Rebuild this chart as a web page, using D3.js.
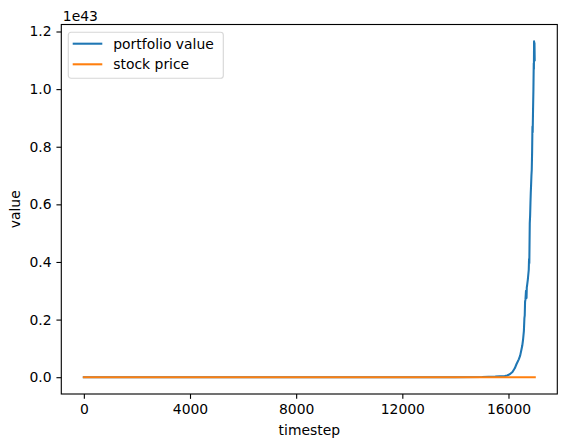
<!DOCTYPE html>
<html>
<head>
<meta charset="utf-8">
<script src="https://cdn.jsdelivr.net/npm/d3@7"></script>
<style>
  html, body { margin: 0; padding: 0; background: #fff; }
  svg { display: block; font-family: 'DejaVu Sans', sans-serif; }
</style>
</head>
<body>
<div id="chart-container"></div>
<script>
// portfolio value, sampled (timestep, value)
const portfolioSteps = [
  0, 4000, 8000, 12000, 14000, 15000, 15500, 15861, 15950, 16049,
  16150, 16237, 16300, 16388, 16440, 16489, 16520, 16549, 16580, 16600,
  16613, 16625, 16640, 16660, 16680, 16690, 16700, 16730, 16764, 16775,
  16785, 16802, 16815, 16828, 16840, 16851, 16865, 16877, 16890, 16903,
  16912, 16926, 16940, 16952, 16958, 16964, 16972, 16980, 16988
];
const portfolioValues = [
  0, 0, 0, 0, 1e39, 5e39, 2e40, 4e40, 6e40, 1.0e41,
  1.8e41, 3.1e41, 4.5e41, 6.2e41, 7.5e41, 9.6e41, 1.10e42, 1.30e42, 1.60e42, 2.05e42,
  2.15e42, 2.62e42, 2.70e42, 3.00e42, 2.75e42, 3.12e42, 3.18e42, 3.40e42, 3.73e42, 4.10e42,
  3.95e42, 5.34e42, 5.60e42, 6.05e42, 6.40e42, 6.65e42, 7.00e42, 7.20e42, 7.80e42, 8.70e42,
  8.50e42, 9.30e42, 1.00e43, 1.09e43, 1.07e43, 1.166e43, 1.12e43, 1.16e43, 1.10e43
];

// stock price, sampled (timestep, value)
const stockSteps = [0, 4000, 8000, 12000, 16000, 16990];
const stockValues = [100, 140, 120, 160, 150, 170];

const xTicks = [0, 4000, 8000, 12000, 16000];
const yTicks = [0, 0.2e43, 0.4e43, 0.6e43, 0.8e43, 1.0e43, 1.2e43];

const seriesNames = ['portfolio value', 'stock price'];
const seriesColors = ['#1f77b4', '#ff7f0e'];

const width = 567;
const height = 448;
const margin = { top: 24.5, right: 9.7, bottom: 54, left: 61.3 };
const fontSize = 13.9;
const tickLen = 4.86;
const tickPad = 4.86;

function padded([lo, hi]) {
  const d = (hi - lo) * 0.05;
  return [lo - d, hi + d];
}

const series = [
  portfolioSteps.map((t, i) => ({ t, v: portfolioValues[i] })),
  stockSteps.map((t, i) => ({ t, v: stockValues[i] }))
];
const all = series.flat();

const x = d3.scaleLinear()
  .domain(padded(d3.extent(all, d => d.t)))
  .range([margin.left, width - margin.right]);
const y = d3.scaleLinear()
  .domain(padded(d3.extent(all, d => d.v)))
  .range([height - margin.bottom, margin.top]);

const svg = d3.select('#chart-container').append('svg')
  .attr('width', width)
  .attr('height', height)
  .attr('font-size', fontSize);

const plot = svg.append('g');
plot.append('clipPath').attr('id', 'clip')
  .append('rect')
    .attr('x', margin.left)
    .attr('y', margin.top)
    .attr('width', width - margin.left - margin.right)
    .attr('height', height - margin.top - margin.bottom);

const line = d3.line()
  .x(d => x(d.t))
  .y(d => y(d.v));

plot.selectAll('path.series')
  .data(series)
  .join('path')
    .attr('class', 'series')
    .attr('clip-path', 'url(#clip)')
    .attr('d', line)
    .attr('fill', 'none')
    .attr('stroke', (d, i) => seriesColors[i])
    .attr('stroke-width', 2.08)
    .attr('stroke-linejoin', 'round')
    .attr('stroke-linecap', 'square');

// axes
const xAxis = svg.append('g')
  .attr('transform', `translate(0,${height - margin.bottom})`)
  .call(d3.axisBottom(x).tickValues(xTicks).tickFormat(d3.format('d'))
    .tickSize(tickLen).tickPadding(tickPad).tickSizeOuter(0));
const yAxis = svg.append('g')
  .attr('transform', `translate(${margin.left},0)`)
  .call(d3.axisLeft(y).tickValues(yTicks).tickFormat(d => (d / 1e43).toFixed(1))
    .tickSize(tickLen).tickPadding(tickPad).tickSizeOuter(0));

for (const ax of [xAxis, yAxis]) {
  ax.select('.domain').remove();
  ax.selectAll('.tick line').attr('stroke', '#000').attr('stroke-width', 1.11);
  ax.selectAll('.tick text')
    .attr('fill', '#000')
    .attr('font-size', fontSize)
    .attr('font-family', 'DejaVu Sans, sans-serif');
}
xAxis.selectAll('.tick text').attr('dy', '0.76em');

// frame
svg.append('rect')
  .attr('x', margin.left)
  .attr('y', margin.top)
  .attr('width', width - margin.left - margin.right)
  .attr('height', height - margin.top - margin.bottom)
  .attr('fill', 'none')
  .attr('stroke', '#000')
  .attr('stroke-width', 1.11);

// labels
svg.append('text')
  .attr('x', (margin.left + width - margin.right) / 2)
  .attr('y', 435)
  .attr('text-anchor', 'middle')
  .text('timestep');

svg.append('text')
  .attr('transform', `translate(19.5,${(margin.top + height - margin.bottom) / 2}) rotate(-90)`)
  .attr('text-anchor', 'middle')
  .text('value');

svg.append('text')
  .attr('x', margin.left + 1.5)
  .attr('y', 20.7)
  .text('1e43');

// legend
const legend = svg.append('g').attr('transform', 'translate(68.3,32.3)');
legend.append('rect')
  .attr('width', 155)
  .attr('height', 46)
  .attr('rx', 2.8)
  .attr('fill', 'rgba(255,255,255,0.8)')
  .attr('stroke', 'rgba(204,204,204,0.8)')
  .attr('stroke-width', 1.11);

const items = legend.selectAll('g.item')
  .data(seriesNames)
  .join('g')
    .attr('class', 'item')
    .attr('transform', (d, i) => `translate(0,${11.4 + i * 20.6})`);
items.append('line')
  .attr('x1', 4.4)
  .attr('x2', 34)
  .attr('stroke', (d, i) => seriesColors[i])
  .attr('stroke-width', 2.08);
items.append('text')
  .attr('x', 45)
  .attr('dy', '0.36em')
  .text(d => d);
</script>
</body>
</html>
